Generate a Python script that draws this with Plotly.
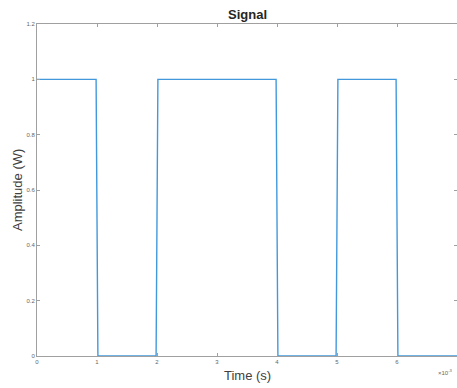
import plotly.graph_objects as go

# Signal samples (time in ms, amplitude in W)
time_ms = [0, 0.985, 1.0, 1.015, 1.985, 2.0, 2.015, 3.985, 4.0, 4.015, 4.985, 5.0, 5.015, 5.985, 6.0, 6.015, 7.0]
amplitude = [1, 1, 0.5, 0, 0, 0.5, 1, 1, 0.5, 0, 0, 0.5, 1, 1, 0.5, 0, 0]

x_ticks_ms = [0, 1, 2, 3, 4, 5, 6, 7]
x_tick_labels = ["0", "1", "2", "3", "4", "5", "6", "7"]
y_ticks = [0, 0.2, 0.4, 0.6, 0.8, 1.0, 1.2]
y_tick_labels = ["0", "0.2", "0.4", "0.6", "0.8", "1", "1.2"]

time_s = [t * 1e-3 for t in time_ms]

fig = go.Figure()
fig.add_trace(go.Scatter(
    x=time_s, y=amplitude, mode="lines",
    line=dict(color="#4199dc", width=1.4),
    hoverinfo="skip", showlegend=False,
))

axis_common = dict(
    showgrid=False, zeroline=False, showline=True, linecolor="#a0a0a0", linewidth=1,
    mirror="ticks", ticks="inside", ticklen=3, tickcolor="#a0a0a0", tickwidth=1,
    tickfont=dict(family="Liberation Sans, Arial, sans-serif", size=6, color="#666666"),
)

fig.update_layout(
    width=457, height=388,
    margin=dict(l=37, r=0, t=24, b=32),
    paper_bgcolor="white", plot_bgcolor="white",
    xaxis=dict(range=[0, 7e-3], tickvals=[t * 1e-3 for t in x_ticks_ms], ticktext=x_tick_labels, **axis_common),
    yaxis=dict(range=[0, 1.2], tickvals=y_ticks, ticktext=y_tick_labels, **axis_common),
    annotations=[
        dict(text="<b>Signal</b>", xref="paper", yref="paper", x=0.5, y=1, yshift=10,
             showarrow=False, xanchor="center", yanchor="middle",
             font=dict(family="Liberation Sans, Arial, sans-serif", size=13, color="#262626")),
        dict(text="Time (s)", xref="paper", yref="paper", x=0.5, y=0, yshift=-19,
             showarrow=False, xanchor="center", yanchor="middle",
             font=dict(family="Liberation Sans, Arial, sans-serif", size=13, color="#404040")),
        dict(text="Amplitude (W)", xref="paper", yref="paper", x=0, xshift=-20, y=0.5,
             textangle=-90, showarrow=False, xanchor="center", yanchor="middle",
             font=dict(family="Liberation Sans, Arial, sans-serif", size=13, color="#404040")),
        dict(text="×10<sup>-3</sup>", xref="paper", yref="paper", x=1, y=0, yshift=-16, xshift=-2,
             showarrow=False, xanchor="right", yanchor="middle",
             font=dict(family="Liberation Sans, Arial, sans-serif", size=6, color="#666666")),
    ],
)

fig.write_html("out.html")
